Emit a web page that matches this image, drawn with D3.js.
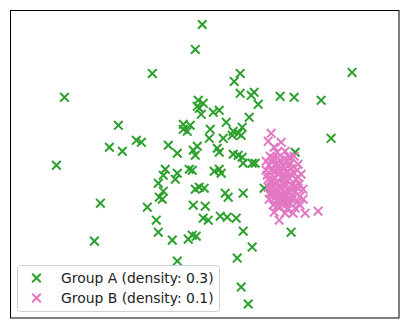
<!DOCTYPE html>
<html>
<head>
<meta charset="utf-8">
<script src="https://cdn.jsdelivr.net/npm/d3@7"></script>
<style>
  body { margin: 0; background: #fff; }
  svg { display: block; font-family: "DejaVu Sans", sans-serif; }
</style>
</head>
<body>
<div id="chart"></div>
<script>
// group A points, [x, y]
const groupA = [
  [-0.06, 2.80], [-0.20, 2.30], [-1.06, 1.82], [-2.82, 1.34], [2.94, 1.84],
  [0.70, 1.82], [0.58, 1.66], [0.70, 1.42], [0.92, 1.38], [0.98, 1.44],
  [1.06, 1.20], [1.50, 1.36], [1.78, 1.34], [2.32, 1.28], [-0.14, 1.28],
  [-0.04, 1.22], [-0.16, 1.16], [-0.12, 1.12], [-0.08, 1.00], [0.16, 1.04],
  [0.28, 1.08], [-1.74, 0.78], [-0.44, 0.80], [-0.30, 0.78], [-0.44, 0.70],
  [-0.36, 0.66], [0.10, 0.70], [0.08, 0.52], [0.88, 0.94], [0.42, 0.84],
  [0.74, 0.74], [0.56, 0.66], [0.66, 0.62], [0.72, 0.58], [0.54, 0.58],
  [0.36, 0.52], [2.52, 0.52], [-1.38, 0.48], [-1.28, 0.44], [-1.92, 0.34],
  [-1.66, 0.26], [-0.74, 0.38], [-0.56, 0.22], [-0.24, 0.28], [-0.16, 0.36],
  [-0.20, 0.18], [0.24, 0.32], [0.28, 0.24], [0.56, 0.20], [0.66, 0.18],
  [0.74, 0.14], [0.76, 0.02], [0.94, 0.02], [1.80, 0.24], [-2.98, -0.02],
  [-0.80, -0.10], [-0.84, -0.22], [-0.56, -0.18], [-0.60, -0.30], [-0.32, -0.10],
  [-0.26, -0.12], [-0.94, -0.38], [-0.84, -0.54], [-0.92, -0.66], [-0.86, -0.70],
  [-1.16, -0.86], [-2.10, -0.78], [-2.22, -1.54], [-0.98, -1.12], [-0.94, -1.36],
  [-0.66, -1.52], [-0.56, -1.94], [-0.20, -0.50], [-0.12, -0.46], [-0.02, -0.48],
  [-0.24, -0.82], [0.00, -0.84], [-0.04, -1.08], [0.06, -1.12], [-0.34, -1.50],
  [-0.26, -1.42], [-0.18, -1.44], [0.18, -0.14], [0.28, -0.10], [0.32, -0.18],
  [0.76, -0.58], [0.40, -0.58], [0.46, -0.66], [1.18, -0.48], [0.30, -1.04],
  [0.44, -1.06], [0.62, -1.08], [0.76, -1.34], [0.94, -1.66], [0.64, -1.88],
  [1.72, -1.36], [0.72, -2.46], [0.86, -2.80], [1.00, 0.02]
];

// group B points, [x, y]
const groupB = [
  [1.32, 0.62], [1.26, 0.46], [1.52, 0.44], [1.38, 0.34], [1.60, 0.26],
  [1.44, 0.24], [1.30, 0.16], [1.68, 0.14], [1.86, 0.00], [1.22, 0.06],
  [1.36, 0.12], [1.50, 0.08], [1.64, 0.06], [1.78, 0.16], [1.28, -0.02],
  [1.42, 0.02], [1.56, -0.04], [1.72, -0.08], [1.84, -0.12], [1.32, -0.12],
  [1.48, -0.10], [1.62, -0.16], [1.92, -0.20], [1.24, -0.22], [1.38, -0.26],
  [1.54, -0.24], [1.68, -0.28], [1.82, -0.30], [1.30, -0.34], [1.44, -0.38],
  [1.58, -0.36], [1.74, -0.42], [1.88, -0.40], [1.26, -0.46], [1.40, -0.50],
  [1.52, -0.48], [1.66, -0.52], [1.80, -0.56], [1.96, -0.50], [1.34, -0.58],
  [1.48, -0.62], [1.62, -0.60], [1.76, -0.66], [1.90, -0.64], [1.28, -0.70],
  [1.42, -0.72], [1.56, -0.74], [1.70, -0.78], [1.84, -0.76], [1.36, -0.82],
  [1.50, -0.86], [1.64, -0.90], [1.80, -0.88], [1.96, -0.70], [1.38, -0.96],
  [1.60, -0.98], [1.76, -0.98], [2.00, -0.98], [2.26, -0.94], [1.48, -1.12],
  [1.46, -0.20], [1.60, -0.44], [1.72, -0.20], [1.34, -0.44], [1.54, -0.64],
  [1.66, -0.04], [1.40, -0.14], [1.80, -0.44], [1.30, -0.58], [1.58, -0.28],
  [1.68, -0.68], [1.44, 0.12], [1.56, -0.80], [1.42, -0.62], [1.74, -0.52],
  [1.86, -0.26], [1.22, -0.12], [1.50, -0.42], [1.64, -0.78], [1.36, -0.32],
  [1.34, 0.04], [1.58, 0.10], [1.46, -0.04], [1.70, 0.02], [1.26, -0.30],
  [1.52, -0.16], [1.78, -0.18], [1.40, -0.40], [1.64, -0.34], [1.86, -0.48],
  [1.32, -0.50], [1.46, -0.54], [1.70, -0.58], [1.58, -0.56], [1.38, -0.68],
  [1.52, -0.70], [1.74, -0.72], [1.44, -0.84], [1.60, -0.66], [1.90, -0.82]
];

const seriesNames = ["Group A (density: 0.3)", "Group B (density: 0.1)"];
const seriesColors = ["#2ca02c", "#e377c2"];

const width = 407;
const height = 328;
const plot = { left: 10.5, top: 10.5, right: 399, bottom: 318 };

const svg = d3.select("#chart")
  .append("svg")
  .attr("width", width)
  .attr("height", height);

const x = d3.scaleLinear().domain([-3.9, 3.88]).range([plot.left, plot.right]);
const y = d3.scaleLinear().domain([-3.08, 3.08]).range([plot.bottom, plot.top]);

// x-shaped marker, ~9px across
const markerPath = (s) => `M${-s},${-s}L${s},${s}M${-s},${s}L${s},${-s}`;
const half = 4.3;

function drawSeries(data, color) {
  svg.append("g")
    .selectAll("path")
    .data(data)
    .enter()
    .append("path")
    .attr("transform", (d) => `translate(${x(d[0])},${y(d[1])})`)
    .attr("d", markerPath(half))
    .attr("stroke", color)
    .attr("stroke-width", 2)
    .attr("fill", "none");
}

drawSeries(groupA, seriesColors[0]);
drawSeries(groupB, seriesColors[1]);

// axes frame, no ticks
svg.append("rect")
  .attr("x", plot.left)
  .attr("y", plot.top)
  .attr("width", plot.right - plot.left)
  .attr("height", plot.bottom - plot.top)
  .attr("fill", "none")
  .attr("stroke", "#000")
  .attr("stroke-width", 1);

// legend
const legend = svg.append("g");
legend.append("rect")
  .attr("x", 17.5)
  .attr("y", 265.5)
  .attr("width", 202)
  .attr("height", 46)
  .attr("rx", 3)
  .attr("fill", "#fff")
  .attr("fill-opacity", 0.8)
  .attr("stroke", "#d0d0d0")
  .attr("stroke-width", 1);

seriesNames.forEach((name, i) => {
  const cy = 278 + i * 20;
  legend.append("path")
    .attr("transform", `translate(36.5,${cy})`)
    .attr("d", markerPath(half))
    .attr("stroke", seriesColors[i])
    .attr("stroke-width", 2)
    .attr("fill", "none");
  legend.append("text")
    .attr("x", 61)
    .attr("y", cy)
    .attr("dy", "0.36em")
    .attr("font-size", 13.9)
    .attr("fill", "#222")
    .text(name);
});
</script>
</body>
</html>
